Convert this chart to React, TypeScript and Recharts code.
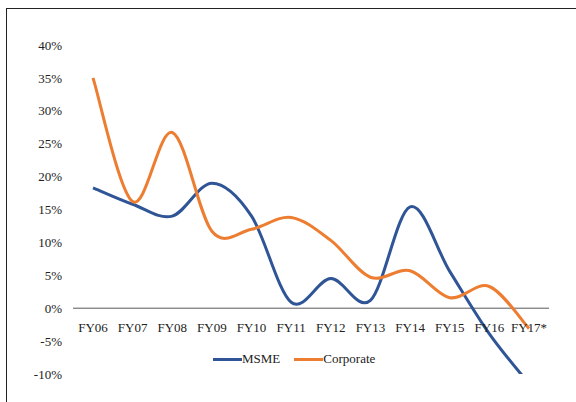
import React from "react";
import { LineChart, Line, XAxis, YAxis, ReferenceLine } from "recharts";

const categories = ["FY06", "FY07", "FY08", "FY09", "FY10", "FY11", "FY12", "FY13", "FY14", "FY15", "FY16", "FY17*"];
const msme = [18.3, 15.8, 14.0, 19.0, 14.0, 0.9, 4.5, 1.2, 15.4, 5.6, -3.9, -11.5];
const corporate = [35.0, 16.2, 26.7, 11.7, 12.0, 13.8, 10.3, 4.7, 5.7, 1.6, 3.3, -3.1];
const yTicks = [-10, -5, 0, 5, 10, 15, 20, 25, 30, 35, 40];

const data = categories.map((name, i) => ({ name, msme: msme[i], corporate: corporate[i] }));

const FONT = '"Liberation Serif", "Times New Roman", serif';
const BLUE = "#2f5597";
const ORANGE = "#ed7d31";

// excel style smoothed line (catmull-rom as bezier)
function excelSmooth(context: any) {
	let pts: number[][] = [];
	return {
		areaStart() {},
		areaEnd() {},
		lineStart() {
			pts = [];
		},
		lineEnd() {
			const n = pts.length;
			if (!n) return;
			context.moveTo(pts[0][0], pts[0][1]);
			for (let i = 0; i < n - 1; i++) {
				const p0 = pts[Math.max(i - 1, 0)];
				const p1 = pts[i];
				const p2 = pts[i + 1];
				const p3 = pts[Math.min(i + 2, n - 1)];
				context.bezierCurveTo(
					p1[0] + (p2[0] - p0[0]) / 6,
					p1[1] + (p2[1] - p0[1]) / 6,
					p2[0] - (p3[0] - p1[0]) / 6,
					p2[1] - (p3[1] - p1[1]) / 6,
					p2[0],
					p2[1]
				);
			}
		},
		point(x: number, y: number) {
			pts.push([+x, +y]);
		},
	};
}

function XTick({ x, y, payload }: any) {
	return (
		<text x={x} y={y - 44} textAnchor="middle" fontSize={13} fontFamily={FONT} fill="#222">
			{payload.value}
		</text>
	);
}

function LegendBox() {
	const items = [
		{ label: "MSME", color: BLUE },
		{ label: "Corporate", color: ORANGE },
	];
	return (
		<div style={{ display: "flex", alignItems: "center", fontFamily: FONT, fontSize: 13, color: "#222" }}>
			{items.map((it) => (
				<div key={it.label} style={{ display: "flex", alignItems: "center", marginRight: 14 }}>
					<span style={{ display: "inline-block", width: 29, height: 3, background: it.color }} />
					<span>{it.label}</span>
				</div>
			))}
		</div>
	);
}

export default function App() {
	return (
		<div style={{ position: "fixed", left: 0, top: 0, width: 576, height: 402, overflow: "hidden", background: "#fff" }}>
			<div
				style={{
					position: "absolute",
					left: 6,
					top: 8,
					width: 600,
					height: 420,
					borderLeft: "1.5px solid #222",
					borderTop: "1.5px solid #222",
				}}
			/>
			<div style={{ position: "absolute", left: 0, top: 0 }}>
				<LineChart width={576} height={402} data={data} margin={{ top: 45, right: 27, bottom: 27, left: 0 }}>
					<XAxis
						dataKey="name"
						height={1}
						axisLine={false}
						tickLine={false}
						tickSize={0}
						interval={0}
						padding={{ left: 20, right: 20 }}
						tick={<XTick />}
					/>
					<YAxis
						width={73}
						domain={[-10, 40]}
						ticks={yTicks}
						allowDataOverflow
						axisLine={false}
						tickLine={false}
						tickSize={0}
						tickMargin={11}
						tickFormatter={(v: number) => `${v}%`}
						tick={{ fontSize: 13, fontFamily: FONT, fill: "#222" }}
					/>
					<ReferenceLine y={0} stroke="#595959" strokeWidth={1} />
					<Line dataKey="msme" name="MSME" type={excelSmooth as any} stroke={BLUE} strokeWidth={3} dot={false} isAnimationActive={false} />
					<Line dataKey="corporate" name="Corporate" type={excelSmooth as any} stroke={ORANGE} strokeWidth={3} dot={false} isAnimationActive={false} />
				</LineChart>
			</div>
			<div style={{ position: "absolute", left: 213, top: 351 }}>
				<LegendBox />
			</div>
		</div>
	);
}
